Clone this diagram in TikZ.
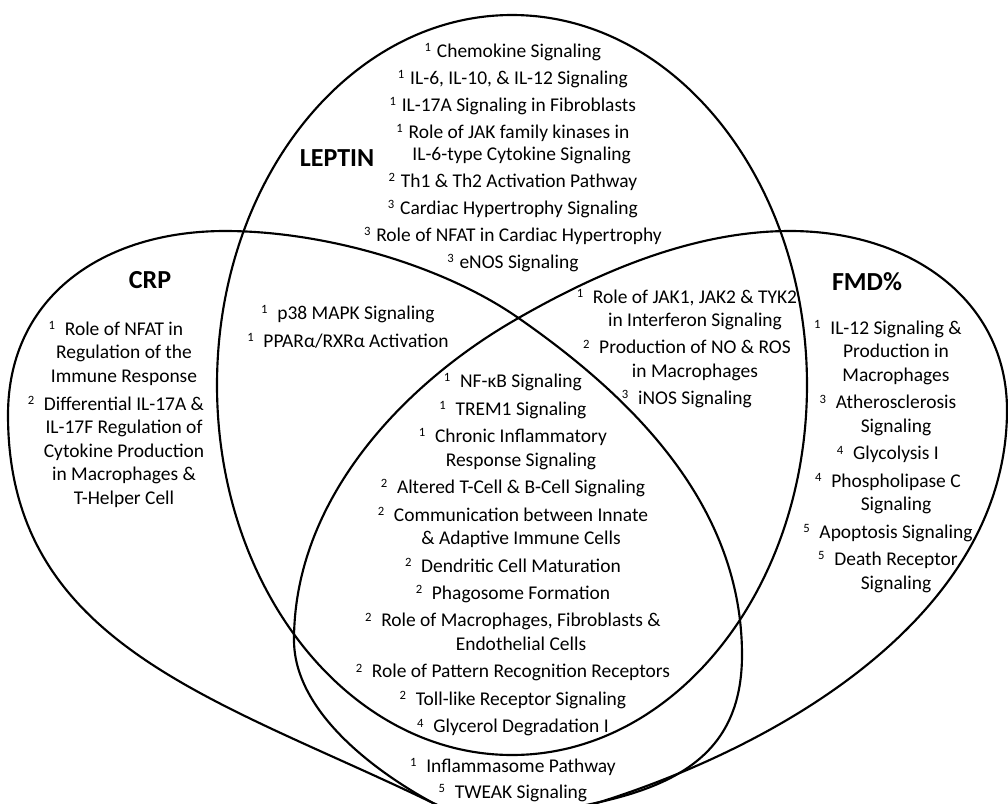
\documentclass[tikz,border=0pt]{standalone}
\usepackage{fontspec}
\setmainfont{Carlito}
\newcommand{\supn}[1]{\llap{\raisebox{0.62ex}{\fontsize{9.5pt}{9.5pt}\selectfont #1}\hspace{0.5em}}}
\newcommand{\supt}[1]{\llap{\raisebox{0.62ex}{\fontsize{9.5pt}{9.5pt}\selectfont #1}\hspace{0.3em}}}
\begin{document}
\begin{tikzpicture}[x=0.75pt,y=-0.75pt,
  setline/.style={line width=1.6pt, line join=round},
  txt/.style={align=center, inner sep=0pt, font=\fontsize{14.6pt}{17.6pt}\selectfont},
  toptxt/.style={align=center, inner sep=0pt, font=\fontsize{14.6pt}{16.5pt}\selectfont},
  lbl/.style={inner sep=0pt, font=\fontsize{19.5pt}{23pt}\selectfont\bfseries}]
\useasboundingbox (0,0) rectangle (1008,804);
\clip (0,0) rectangle (1008,804);
\fill[white] (0,0) rectangle (1008,804);
% LEPTIN
\draw[setline] (512,385) ellipse [x radius=295, y radius=370];
% CRP
\draw[setline] (225,231) .. controls (325,231) and (443,265.8) .. (517,317)
  .. controls (632,396.7) and (742,505) .. (742,655)
  .. controls (742,745) and (687.8,782.2) .. (600,802)
  .. controls (551,813) and (478,824.8) .. (433,803)
  .. controls (217,698.4) and (8,645) .. (8,415)
  .. controls (8,295) and (105,231) .. cycle;
% FMD%
\draw[setline] (790,231) .. controls (690,231) and (593,275) .. (515,320)
  .. controls (402.4,385) and (294,500) .. (294,640)
  .. controls (294,710) and (371.5,769.5) .. (433,803)
  .. controls (477,827) and (552.5,817) .. (600,802)
  .. controls (790,742) and (1007,610) .. (1007,410)
  .. controls (1007,300) and (910,231) .. cycle;
% labels
\node[lbl] (lep) at (337,158) {LEPTIN};
\node[lbl] (crp) at (150,280) {CRP};
\node[lbl] (fmd) at (867,282) {FMD\%};
% LEPTIN only
\node[toptxt] (toptext) at (519,157.5) {\supt{1}Chemokine Signaling\\[3.75pt]
\supt{1}IL-6, IL-10, \& IL-12 Signaling\\[3.75pt]
\supt{1}IL-17A Signaling in Fibroblasts\\[3.75pt]
\supt{1}Role of JAK family kinases in\\
\hspace*{4pt}IL-6-type Cytokine Signaling\\[3.75pt]
\supt{2}Th1 \& Th2 Activation Pathway\\[3.75pt]
\supt{3}Cardiac Hypertrophy Signaling\\[3.75pt]
\supt{3}Role of NFAT in Cardiac Hypertrophy\\[3.75pt]
\supt{3}eNOS Signaling};
% CRP only
\node[txt] (crptext) at (124,414.5) {\supn{1}Role of NFAT in\\
Regulation of the\\
Immune Response\\[3.4pt]
\supn{2}Differential IL-17A \&\\
IL-17F Regulation of\\
Cytokine Production\\
in Macrophages \&\\
T-Helper Cell};
% CRP & LEPTIN
\node[txt] (cltext) at (356,327) {\supn{1}p38 MAPK Signaling\\[3.4pt]
\supn{1}PPARα/RXRα Activation};
% LEPTIN & FMD
\node[txt] (lftext) at (695,348.5) {\supn{1}Role of JAK1, JAK2 \& TYK2\\
in Interferon Signaling\\[2.5pt]
\supn{2}Production of NO \& ROS\\
in Macrophages\\[2.5pt]
\supn{3}iNOS Signaling};
% FMD only
\node[txt] (fmdtext) at (896,456.5) {\supn{1}IL-12 Signaling \&\\
Production in\\
Macrophages\\[3pt]
\supn{3}Atherosclerosis\\
Signaling\\[3pt]
\supn{4}Glycolysis I\\[3pt]
\supn{4}Phospholipase C\\
Signaling\\[3pt]
\supn{5}Apoptosis Signaling\\[3pt]
\supn{5}Death Receptor\\
Signaling};
% all three
\node[txt] (alltext) at (521,555) {\supn{1}NF-κB Signaling\\[3pt]
\supn{1}TREM1 Signaling\\[3pt]
\supn{1}Chronic Inflammatory\\
Response Signaling\\[3pt]
\supn{2}Altered T-Cell \& B-Cell Signaling\\[3pt]
\supn{2}Communication between Innate\\
\& Adaptive Immune Cells\\[3pt]
\supn{2}Dendritic Cell Maturation\\[3pt]
\supn{2}Phagosome Formation\\[3pt]
\supn{2}Role of Macrophages, Fibroblasts \&\\
Endothelial Cells\\[3pt]
\supn{2}Role of Pattern Recognition Receptors\\[3pt]
\supn{2}Toll-like Receptor Signaling\\[3pt]
\supn{4}Glycerol Degradation I};
% CRP & FMD
\node[txt] (cftext) at (521,780) {\supn{1}Inflammasome Pathway\\[2pt]
\supn{5}TWEAK Signaling};
\end{tikzpicture}
\end{document}
